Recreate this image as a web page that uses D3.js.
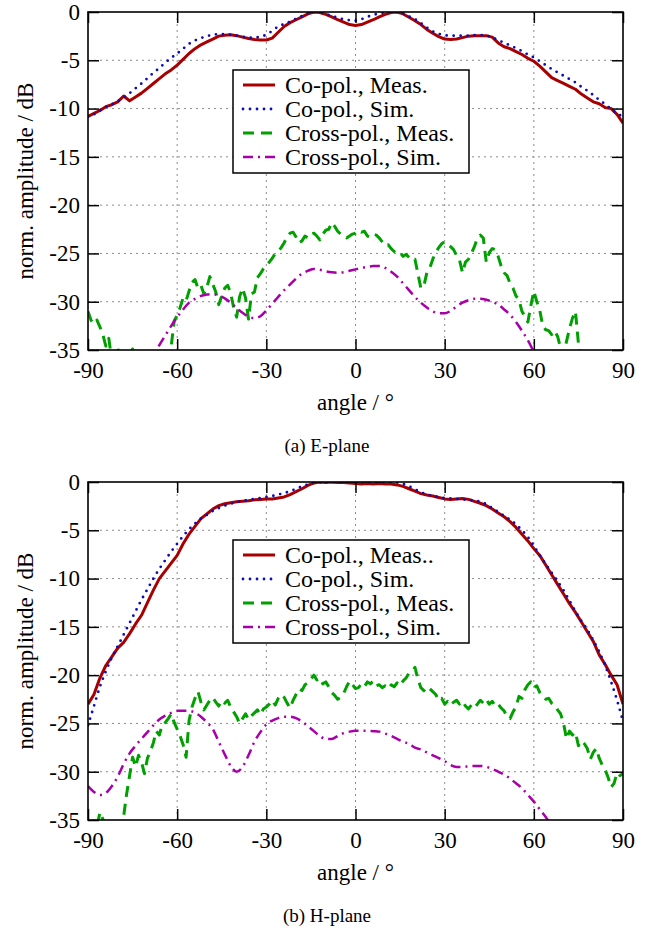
<!DOCTYPE html>
<meta charset="utf-8">
<style>
    body { margin: 0; background: #fff; }
    svg, svg text { font-family: "Liberation Serif", "Times New Roman", "DejaVu Serif", serif; fill: #000; }
    .grid line { stroke: #8c8c8c; stroke-width: 1; stroke-dasharray: 2,4; }
</style>
<body>
<script src="https://cdn.jsdelivr.net/npm/d3@7/dist/d3.min.js"></script>
<script>

    var width = 654,
        height = 932;

    // tick labels
    var xTicks = [-90, -60, -30, 0, 30, 60, 90];
    var yTicks = [0, -5, -10, -15, -20, -25, -30, -35];

    var legendE = ["Co-pol., Meas.", "Co-pol., Sim.", "Cross-pol., Meas.", "Cross-pol., Sim."];
    var legendH = ["Co-pol., Meas..", "Co-pol., Sim.", "Cross-pol., Meas.", "Cross-pol., Sim."];

    // sample angles (deg)
    var angle1 = d3.range(-90, 91, 1);
    var angle2 = d3.range(-90, 91, 2);
    var angleCrossSimE = d3.range(-70, 63, 2);
    var angleCrossSimH = d3.range(-90, 69, 2);

    // (a) E-plane
    var eCoMeas = [-10.8,-10.5,-10.2,-9.8,-9.6,-9.3,-8.7,-9.2,-8.8,-8.4,
        -7.9,-7.4,-6.9,-6.4,-6.0,-5.5,-4.9,-4.3,-3.8,-3.4,
        -3.1,-2.8,-2.5,-2.4,-2.35,-2.45,-2.6,-2.75,-2.85,-2.9,
        -2.9,-2.7,-2.1,-1.5,-1.1,-0.8,-0.5,-0.2,0,-0.05,
        -0.25,-0.5,-0.8,-1.05,-1.3,-1.4,-1.3,-1.05,-0.8,-0.5,
        -0.25,-0.05,0,-0.2,-0.55,-0.9,-1.3,-1.8,-2.2,-2.55,
        -2.8,-2.85,-2.8,-2.65,-2.5,-2.45,-2.45,-2.45,-2.6,-3.2,
        -3.6,-3.8,-4.1,-4.4,-4.8,-5.1,-5.6,-6.2,-6.8,-7.1,
        -7.4,-7.7,-8.0,-8.5,-8.9,-9.3,-9.5,-9.9,-10.0,-10.6,-11.5];

    var eCoSim = [-10.85,-10.6,-10.2,-9.85,-9.55,-9.25,-8.85,-8.4,-7.9,-7.4,
        -6.85,-6.3,-5.8,-5.25,-4.75,-4.3,-3.8,-3.3,-2.95,-2.7,
        -2.5,-2.35,-2.3,-2.3,-2.35,-2.45,-2.55,-2.65,-2.65,-2.55,
        -2.35,-1.95,-1.5,-1.25,-1.0,-0.7,-0.4,-0.15,0,-0.05,
        -0.2,-0.4,-0.6,-0.75,-0.85,-0.9,-0.75,-0.5,-0.3,-0.15,
        -0.05,0,0,-0.15,-0.45,-0.75,-1.15,-1.6,-2.0,-2.25,
        -2.4,-2.45,-2.45,-2.45,-2.45,-2.4,-2.4,-2.45,-2.65,-2.9,
        -3.2,-3.45,-3.75,-4.05,-4.4,-4.7,-5.1,-5.5,-5.9,-6.25,
        -6.6,-6.95,-7.3,-7.75,-8.15,-8.6,-9.1,-9.55,-10.05,-10.5,-10.85];

    var eCrossMeas = [-31.0,-31.9,-32.3,-31.9,-32.6,-33.4,-34.6,-33.8,-36.0,-35.5,
        -34.8,-36.2,-37.0,-36.5,-35.8,-34.9,-36.4,-37.5,-37.8,-38.0,
        -37.6,-37.2,-37.0,-36.8,-36.4,-36.0,-35.6,-35.8,-34.6,-32.0,
        -31.4,-30.6,-29.6,-29.9,-28.9,-28.0,-27.7,-28.6,-28.3,-29.2,
        -28.5,-27.4,-28.2,-29.0,-30.3,-29.4,-28.6,-28.3,-29.1,-30.6,
        -31.6,-29.5,-28.6,-29.6,-31.8,-29.2,-29.0,-27.5,-27.1,-26.6,
        -26.2,-25.9,-25.5,-25.0,-24.8,-24.4,-23.9,-23.3,-22.9,-22.8,
        -23.3,-23.9,-23.7,-23.2,-23.4,-23.0,-22.9,-23.2,-23.6,-23.0,
        -22.6,-22.5,-21.8,-22.2,-22.7,-23.0,-23.1,-23.4,-23.2,-23.0,
        -22.9,-22.6,-22.8,-22.7,-23.2,-23.3,-23.0,-23.1,-23.4,-23.8,
        -24.2,-24.1,-24.5,-24.8,-25.0,-24.9,-25.3,-25.1,-25.4,-25.7,
        -25.6,-27.1,-28.6,-28.4,-27.0,-26.5,-25.6,-24.9,-24.4,-24.0,
        -23.8,-24.1,-24.3,-24.6,-25.2,-25.7,-27.0,-25.9,-25.6,-25.0,
        -24.3,-23.4,-23.1,-23.4,-25.9,-24.9,-24.5,-24.6,-25.3,-26.3,
        -27.0,-27.3,-28.1,-28.6,-29.4,-29.8,-31.0,-31.5,-32.1,-30.4,
        -28.9,-30.0,-30.9,-32.5,-32.9,-33.0,-33.4,-33.0,-33.6,-34.8,
        -35.6,-34.1,-32.8,-31.7,-31.0,-34.3,-36.5,-37.5,-38.0,-38.3,
        -38.5,-38.6,-38.8,-39.0,-39.1,-39.2,-39.3,-39.4,-39.5,-39.5,-39.6];

    var eCrossSim = [-36.6,-35.6,-34.5,-33.5,-32.5,-31.6,-30.8,-30.1,-29.7,-29.4,
        -29.25,-29.2,-29.35,-29.65,-30.1,-30.65,-31.15,-31.55,-31.7,-31.5,
        -30.9,-30.2,-29.5,-28.8,-28.2,-27.6,-27.1,-26.8,-26.6,-26.7,
        -26.85,-26.95,-27.0,-26.95,-26.8,-26.65,-26.5,-26.4,-26.3,-26.3,
        -26.5,-26.9,-27.4,-28.1,-28.8,-29.5,-30.1,-30.6,-31.0,-31.2,
        -31.2,-30.95,-30.5,-30.1,-29.85,-29.7,-29.7,-29.8,-30.0,-30.3,
        -30.8,-31.35,-32.1,-33.0,-34.0,-35.2,-36.4];

    // (b) H-plane
    var hCoMeas = [-23.0,-22.0,-20.3,-19.0,-18.1,-17.2,-16.6,-15.7,-14.7,-13.8,
        -12.5,-11.2,-10.0,-9.2,-8.4,-7.6,-6.4,-5.4,-4.6,-3.8,
        -3.3,-2.8,-2.45,-2.25,-2.15,-2.05,-2.0,-1.95,-1.85,-1.8,
        -1.75,-1.75,-1.65,-1.55,-1.3,-1.0,-0.7,-0.35,-0.1,0,
        -0.05,0,-0.05,-0.05,-0.1,-0.15,-0.2,-0.15,-0.2,-0.15,
        -0.2,-0.2,-0.3,-0.45,-0.7,-0.95,-1.2,-1.35,-1.45,-1.6,
        -1.75,-1.8,-1.75,-1.7,-1.8,-2.0,-2.2,-2.45,-2.8,-3.2,
        -3.6,-4.1,-4.7,-5.4,-6.1,-6.9,-7.6,-8.6,-9.6,-10.6,
        -11.6,-12.6,-13.5,-14.5,-15.5,-16.5,-17.9,-18.9,-20.0,-21.0,-23.0];

    var hCoSim = [-25.2,-23.2,-21.2,-19.6,-18.2,-17.0,-15.8,-14.6,-13.4,-12.2,
        -11.1,-10.0,-9.0,-8.1,-7.2,-6.4,-5.6,-4.9,-4.3,-3.8,
        -3.4,-3.0,-2.7,-2.45,-2.25,-2.1,-1.95,-1.85,-1.75,-1.65,
        -1.55,-1.45,-1.3,-1.15,-0.95,-0.7,-0.45,-0.25,-0.1,-0.05,
        0,0,0,0,0,0,0,0,0,0,
        0,0,-0.05,-0.2,-0.45,-0.75,-1.05,-1.3,-1.45,-1.55,
        -1.65,-1.7,-1.75,-1.8,-1.85,-1.9,-2.05,-2.3,-2.7,-3.1,
        -3.5,-3.9,-4.4,-5.0,-5.7,-6.6,-7.6,-8.5,-9.4,-10.3,
        -11.2,-12.3,-13.4,-14.4,-15.3,-16.4,-17.6,-19.0,-20.7,-22.6,-24.8];

    var hCrossMeas = [-37.0,-36.5,-36.0,-35.8,-34.2,-34.9,-36.5,-37.5,-38.0,-38.0,
        -37.0,-36.0,-34.6,-32.3,-30.4,-28.5,-29.5,-28.3,-29.0,-30.2,
        -28.6,-27.9,-27.0,-25.8,-26.2,-25.1,-24.9,-24.5,-24.0,-24.9,
        -25.6,-26.3,-27.2,-28.5,-24.7,-23.3,-22.4,-21.7,-22.8,-23.6,
        -23.1,-22.6,-22.3,-22.8,-23.2,-22.6,-22.9,-22.6,-23.3,-23.8,
        -24.3,-25.0,-24.5,-24.0,-24.6,-24.2,-23.9,-23.6,-24.1,-23.5,
        -23.3,-23.0,-22.6,-23.1,-22.4,-22.0,-22.3,-22.9,-23.4,-22.6,
        -22.0,-21.4,-21.6,-21.0,-20.8,-20.4,-20.0,-20.5,-20.3,-20.9,
        -20.7,-21.2,-21.8,-22.1,-22.5,-22.3,-21.9,-21.2,-20.6,-21.0,
        -21.4,-21.3,-20.9,-21.2,-20.7,-20.9,-20.6,-21.1,-21.0,-21.3,
        -21.1,-21.4,-21.0,-21.2,-20.8,-21.1,-20.6,-20.3,-19.8,-19.6,
        -19.2,-20.4,-21.3,-21.6,-21.2,-21.4,-21.7,-22.0,-22.6,-22.4,
        -23.0,-22.7,-23.1,-22.8,-22.6,-23.0,-22.7,-23.2,-23.5,-23.1,
        -23.4,-23.0,-22.6,-22.9,-22.5,-23.0,-22.7,-23.2,-23.0,-23.4,
        -23.7,-24.3,-24.5,-23.8,-23.3,-22.2,-22.4,-21.5,-21.0,-20.7,
        -21.3,-21.1,-21.8,-22.2,-22.5,-22.4,-22.9,-23.1,-23.6,-24.0,
        -25.0,-26.6,-25.8,-26.2,-25.9,-27.3,-26.8,-27.1,-27.6,-28.7,
        -28.0,-27.6,-28.6,-29.3,-29.8,-30.6,-31.6,-31.2,-30.1,-30.4,-30.2];

    var hCrossSim = [-31.5,-32.1,-32.4,-32.2,-31.5,-30.5,-29.2,-28.1,-27.3,-26.6,
        -25.9,-25.2,-24.6,-24.2,-23.9,-23.7,-23.7,-23.7,-23.9,-24.3,
        -24.9,-25.6,-26.9,-28.2,-29.4,-30.0,-29.5,-28.3,-26.9,-25.9,
        -25.1,-24.7,-24.45,-24.3,-24.3,-24.45,-24.8,-25.3,-25.8,-26.3,
        -26.6,-26.6,-26.3,-26.0,-25.85,-25.75,-25.75,-25.75,-25.8,-25.85,
        -26.05,-26.3,-26.6,-26.9,-27.1,-27.5,-27.7,-28.0,-28.3,-28.6,
        -28.9,-29.3,-29.5,-29.5,-29.45,-29.4,-29.4,-29.5,-29.7,-30.0,
        -30.3,-30.7,-31.2,-31.7,-32.4,-33.1,-33.9,-34.7,-35.6,-36.5];

    // line styles, same order as the legend
    var styles = [
        {color: "#a80000", width: 3, dash: null, cap: "butt", curve: d3.curveLinear},
        {color: "#0c0cb8", width: 2.8, dash: "0,7", cap: "round", curve: d3.curveMonotoneX},
        {color: "#00a000", width: 3, dash: "11,7", cap: "butt", curve: d3.curveLinear},
        {color: "#a800a8", width: 2.5, dash: "10,5,2,5", cap: "butt", curve: d3.curveMonotoneX}
    ];

    var serif = "Liberation Serif, Times New Roman, serif";

    var svg = d3.select("body").append("svg")
        .attr("width", width)
        .attr("height", height)
        .attr("font-family", serif);

    var x = d3.scaleLinear().domain([-90, 90]).range([88, 623]);

    function panel(top, id, labels, series, caption) {
        var y = d3.scaleLinear().domain([-35, 0]).range([top + 338, top]);
        var g = svg.append("g");

        g.append("clipPath").attr("id", id)
            .append("rect")
            .attr("x", x(-90)).attr("y", y(0))
            .attr("width", x(90) - x(-90)).attr("height", y(-35) - y(0));

        // grid
        var grid = g.append("g").attr("class", "grid");
        grid.selectAll(".gx").data(xTicks.slice(1, -1)).enter().append("line")
            .attr("x1", function(d) { return x(d); }).attr("x2", function(d) { return x(d); })
            .attr("y1", y(0)).attr("y2", y(-35));
        grid.selectAll(".gy").data(yTicks.slice(1, -1)).enter().append("line")
            .attr("y1", function(d) { return y(d); }).attr("y2", function(d) { return y(d); })
            .attr("x1", x(-90)).attr("x2", x(90));

        // curves
        var lines = g.append("g").attr("clip-path", "url(#" + id + ")");
        series.forEach(function(s, i) {
            var st = styles[i];
            var pts = s.a.map(function(a, k) { return [a, s.v[k]]; });
            lines.append("path")
                .datum(pts)
                .attr("fill", "none")
                .attr("stroke", st.color)
                .attr("stroke-width", st.width)
                .attr("stroke-dasharray", st.dash)
                .attr("stroke-linecap", st.cap)
                .attr("stroke-linejoin", "round")
                .attr("d", d3.line()
                    .curve(st.curve)
                    .x(function(d) { return x(d[0]); })
                    .y(function(d) { return y(d[1]); }));
        });

        // axes
        var fmt = function(d) { return String(d); };
        var ax = [
            g.append("g").attr("transform", "translate(0," + y(-35) + ")")
                .call(d3.axisBottom(x).tickValues(xTicks).tickSize(-11).tickSizeOuter(0).tickPadding(12).tickFormat(fmt)),
            g.append("g").attr("transform", "translate(0," + y(0) + ")")
                .call(d3.axisTop(x).tickValues(xTicks).tickSize(-11).tickSizeOuter(0).tickFormat("")),
            g.append("g").attr("transform", "translate(" + x(-90) + ",0)")
                .call(d3.axisLeft(y).tickValues(yTicks).tickSize(-11).tickSizeOuter(0).tickPadding(8).tickFormat(fmt)),
            g.append("g").attr("transform", "translate(" + x(90) + ",0)")
                .call(d3.axisRight(y).tickValues(yTicks).tickSize(-11).tickSizeOuter(0).tickFormat(""))
        ];
        ax.forEach(function(a) {
            a.attr("font-family", serif);
            a.select(".domain").remove();
            a.selectAll("line").attr("stroke", "#000").attr("stroke-width", 1.5);
            a.selectAll("text").attr("font-size", 23).attr("font-family", serif);
        });

        g.append("rect")
            .attr("x", x(-90)).attr("y", y(0))
            .attr("width", x(90) - x(-90)).attr("height", y(-35) - y(0))
            .attr("fill", "none").attr("stroke", "#000").attr("stroke-width", 1.6);

        // legend
        var lg = g.append("g").attr("transform", "translate(233," + (top + 58) + ")");
        lg.append("rect")
            .attr("width", 236).attr("height", 103)
            .attr("fill", "#fff").attr("stroke", "#000").attr("stroke-width", 1.5);
        labels.forEach(function(t, i) {
            var st = styles[i];
            var cy = 15 + i * 24;
            lg.append("line")
                .attr("x1", 10).attr("x2", 42).attr("y1", cy).attr("y2", cy)
                .attr("stroke", st.color).attr("stroke-width", st.width)
                .attr("stroke-dasharray", st.dash).attr("stroke-linecap", st.cap);
            lg.append("text")
                .attr("x", 52).attr("y", cy + 8)
                .attr("font-size", 24)
                .attr("font-family", serif)
                .text(t);
        });

        // labels
        g.append("text")
            .attr("transform", "translate(33," + ((y(0) + y(-35)) / 2) + ") rotate(-90)")
            .attr("text-anchor", "middle")
            .attr("font-size", 23)
            .attr("font-family", serif)
            .text("norm. amplitude / dB");

        g.append("text")
            .attr("x", (x(-90) + x(90)) / 2).attr("y", top + 398)
            .attr("text-anchor", "middle")
            .attr("font-size", 23)
            .attr("font-family", serif)
            .text("angle / °");

        g.append("text")
            .attr("x", width / 2).attr("y", top + 440)
            .attr("text-anchor", "middle")
            .attr("font-size", 19)
            .attr("font-family", serif)
            .text(caption);
    }

    panel(12, "clipE", legendE, [
        {a: angle2, v: eCoMeas},
        {a: angle2, v: eCoSim},
        {a: angle1, v: eCrossMeas},
        {a: angleCrossSimE, v: eCrossSim}
    ], "(a) E-plane");

    panel(482, "clipH", legendH, [
        {a: angle2, v: hCoMeas},
        {a: angle2, v: hCoSim},
        {a: angle1, v: hCrossMeas},
        {a: angleCrossSimH, v: hCrossSim}
    ], "(b) H-plane");

</script>
